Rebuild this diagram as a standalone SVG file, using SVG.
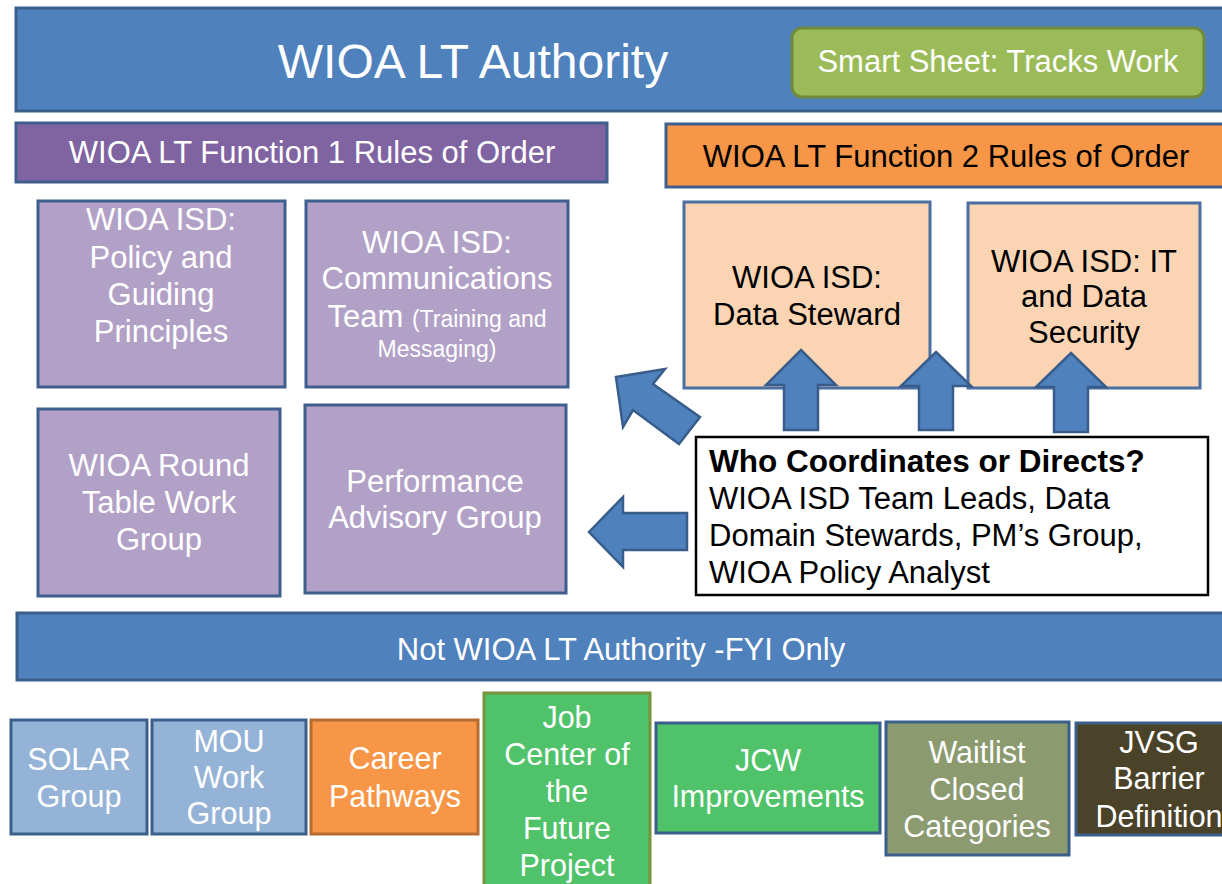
<svg xmlns="http://www.w3.org/2000/svg" width="1222" height="884" viewBox="0 0 1222 884">
<style>
text{font-family:"Liberation Sans",Arial,sans-serif;font-size:31px;text-anchor:middle}
.w{fill:#FFFFFF}
.k{fill:#000000}
.sm{font-size:23px}
.bt{font-size:30.5px}
.lt{text-anchor:start;font-size:31px}
.box{stroke-width:3}
.arrow{fill:#4F81BD;stroke:#385D8A;stroke-width:2.5;stroke-linejoin:miter}
</style>
<rect width="1222" height="884" fill="#FFFFFF"/>
<g id="authority">
<rect class="box" x="16" y="8" width="1215" height="103" fill="#4F81BD" stroke="#3A5F8B"/>
<text class="w" x="473" y="78" style="font-size:48px">WIOA LT Authority</text>
</g>
<g id="smartsheet">
<rect class="box" x="792" y="28" width="412" height="69" rx="10" fill="#9BBB59" stroke="#71893F"/>
<text class="w" x="998" y="72">Smart Sheet: Tracks Work</text>
</g>
<g id="function1">
<rect class="box" x="16" y="123" width="591" height="59" fill="#8064A2" stroke="#3E5F8E"/>
<text class="w" x="312" y="163">WIOA LT Function 1 Rules of Order</text>
</g>
<g id="function2">
<rect class="box" x="666" y="124" width="565" height="63" fill="#F79646" stroke="#3E5F8E"/>
<text class="k" x="946" y="167">WIOA LT Function 2 Rules of Order</text>
</g>
<g id="policy">
<rect class="box" x="38" y="201" width="247" height="186" fill="#B2A1C7" stroke="#3E5F8E"/>
<text class="w" x="161" y="230">WIOA ISD:</text>
<text class="w" x="161" y="268">Policy and</text>
<text class="w" x="161" y="305">Guiding</text>
<text class="w" x="161" y="342">Principles</text>
</g>
<g id="communications">
<rect class="box" x="306" y="201" width="262" height="186" fill="#B2A1C7" stroke="#3E5F8E"/>
<text class="w" x="437" y="253">WIOA ISD:</text>
<text class="w" x="437" y="289">Communications</text>
<text class="w" x="437" y="327">Team <tspan class="sm">(Training and</tspan></text>
<text class="w sm" x="437" y="357">Messaging)</text>
</g>
<g id="roundtable">
<rect class="box" x="38" y="409" width="242" height="187" fill="#B2A1C7" stroke="#3E5F8E"/>
<text class="w" x="159" y="476">WIOA Round</text>
<text class="w" x="159" y="513">Table Work</text>
<text class="w" x="159" y="550">Group</text>
</g>
<g id="performance">
<rect class="box" x="305" y="405" width="261" height="188" fill="#B2A1C7" stroke="#3E5F8E"/>
<text class="w" x="435" y="492">Performance</text>
<text class="w" x="435" y="528">Advisory Group</text>
</g>
<g id="datasteward">
<rect class="box" x="684" y="202" width="246" height="186" fill="#FBD4B4" stroke="#4A6FA0"/>
<text class="k" x="807" y="288">WIOA ISD:</text>
<text class="k" x="807" y="325">Data Steward</text>
</g>
<g id="itsecurity">
<rect class="box" x="968" y="203" width="232" height="185" fill="#FBD4B4" stroke="#4A6FA0"/>
<text class="k" x="1084" y="272">WIOA ISD: IT</text>
<text class="k" x="1084" y="307">and Data</text>
<text class="k" x="1084" y="343">Security</text>
</g>
<g id="coordinates">
<rect x="696" y="437" width="512" height="158" fill="#FFFFFF" stroke="#000000" stroke-width="2.5"/>
<text class="k lt" x="709" y="472" style="font-weight:bold;font-size:31.5px">Who Coordinates or Directs?</text>
<text class="k lt" x="709" y="509">WIOA ISD Team Leads, Data</text>
<text class="k lt" x="709" y="546">Domain Stewards, PM’s Group,</text>
<text class="k lt" x="709" y="583">WIOA Policy Analyst</text>
</g>
<g id="notauthority">
<rect class="box" x="17" y="613" width="1214" height="67" fill="#4F81BD" stroke="#3A5F8B"/>
<text class="w" x="621" y="660">Not WIOA LT Authority -FYI Only</text>
</g>
<g id="solar">
<rect class="box" x="11" y="720" width="136" height="114" fill="#95B3D7" stroke="#3A5F8B"/>
<text class="w bt" x="79" y="770">SOLAR</text>
<text class="w bt" x="79" y="807">Group</text>
</g>
<g id="mou">
<rect class="box" x="152" y="720" width="154" height="114" fill="#95B3D7" stroke="#3A5F8B"/>
<text class="w bt" x="229" y="752">MOU</text>
<text class="w bt" x="229" y="788">Work</text>
<text class="w bt" x="229" y="824">Group</text>
</g>
<g id="career">
<rect class="box" x="311" y="720" width="167" height="114" fill="#F79646" stroke="#B66D31"/>
<text class="w bt" x="395" y="769">Career</text>
<text class="w bt" x="395" y="807">Pathways</text>
</g>
<g id="jobcenter">
<rect class="box" x="484" y="693" width="166" height="200" fill="#50C26A" stroke="#77933C"/>
<text class="w bt" x="567" y="728">Job</text>
<text class="w bt" x="567" y="765">Center of</text>
<text class="w bt" x="567" y="802">the</text>
<text class="w bt" x="567" y="839">Future</text>
<text class="w bt" x="567" y="876">Project</text>
</g>
<g id="jcw">
<rect class="box" x="656" y="723" width="224" height="110" fill="#50C26A" stroke="#3A5F8B"/>
<text class="w bt" x="768" y="771">JCW</text>
<text class="w bt" x="768" y="807">Improvements</text>
</g>
<g id="waitlist">
<rect class="box" x="886" y="722" width="183" height="133" fill="#8B9A6F" stroke="#3A5F8B"/>
<text class="w bt" x="977" y="763">Waitlist</text>
<text class="w bt" x="977" y="800">Closed</text>
<text class="w bt" x="977" y="837">Categories</text>
</g>
<g id="jvsg">
<rect class="box" x="1076" y="723" width="160" height="112" fill="#4A4229" stroke="#3A5F8B"/>
<text class="w bt" x="1159" y="753">JVSG</text>
<text class="w bt" x="1159" y="789">Barrier</text>
<text class="w bt" x="1159" y="827">Definition</text>
</g>
<g id="connectors">
<polygon class="arrow" points="801,350 836,385 818,385 818,430 784,430 784,385 766,385"/>
<polygon class="arrow" points="936,352 971,386 953,386 953,430 919,430 919,386 901,386"/>
<polygon class="arrow" points="1071,353 1106,387 1088,387 1088,432 1054,432 1054,387 1036,387"/>
<polygon class="arrow" points="616,377 665,369 653,384 700,417 679,444 633,410 623,427"/>
<polygon class="arrow" points="589,532 623,497 623,513 687,513 687,550 623,550 623,567"/>
</g>
</svg>
